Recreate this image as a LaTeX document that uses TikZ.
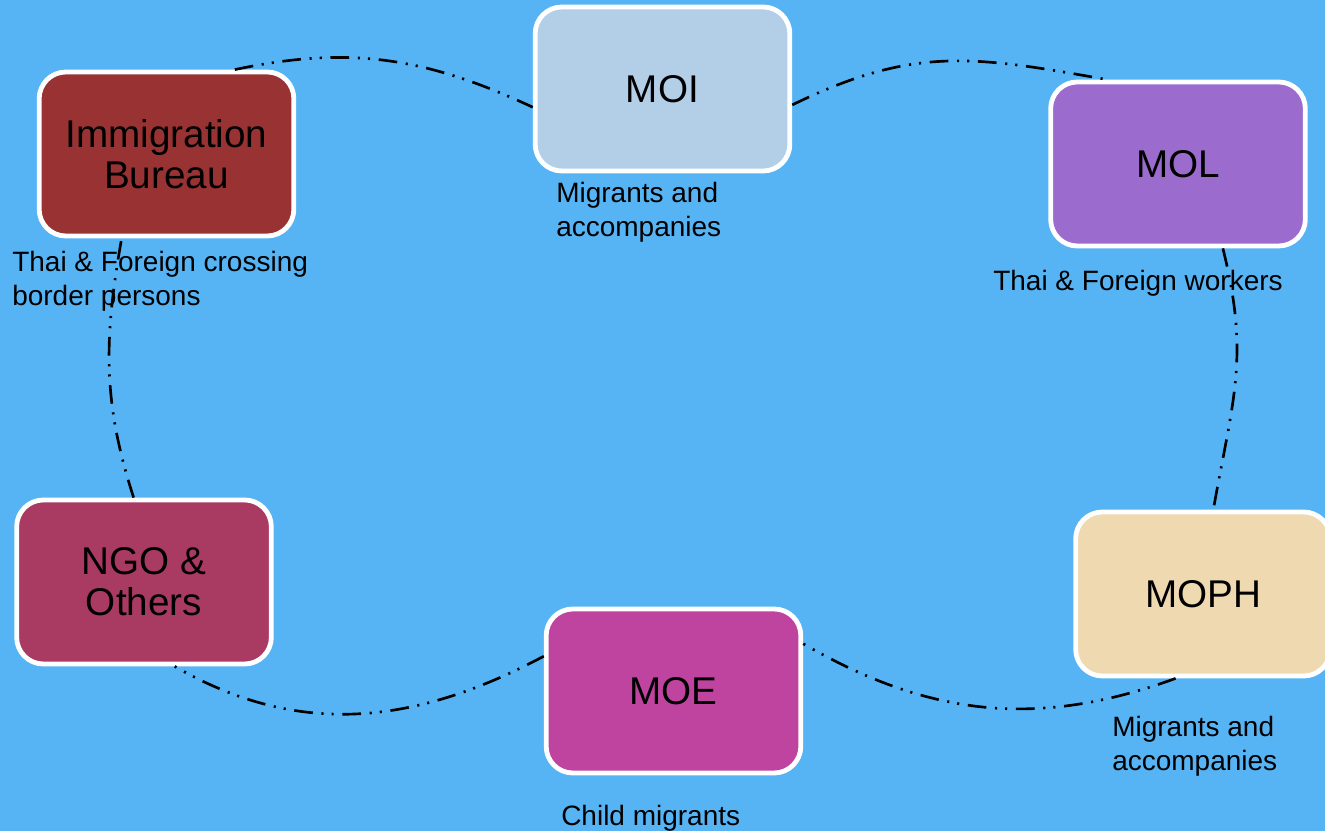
\documentclass[tikz,border=0pt]{standalone}
\usepackage{fontspec}
\setmainfont{Liberation Sans}
\usepackage{tikz}
\usetikzlibrary{positioning}

\definecolor{skyback}{RGB}{86,180,245}
\definecolor{immred}{RGB}{153,51,51}
\definecolor{moiblue}{RGB}{179,207,232}
\definecolor{molpurple}{RGB}{155,107,205}
\definecolor{mophsand}{RGB}{239,217,177}
\definecolor{moemagenta}{RGB}{190,68,160}
\definecolor{ngoberry}{RGB}{169,58,98}

\begin{document}
\begin{tikzpicture}[x=0.75pt, y=0.75pt,
        orgbox/.style={rectangle, draw=white, line width=3.6pt, rounded corners=20pt, minimum width=191pt, minimum height=123pt, align=center, font=\fontsize{29}{31}\selectfont},
        note/.style={anchor=west, align=left, inner sep=0pt, font=\fontsize{21}{25.5}\selectfont},
        link/.style={line width=2pt, dash pattern=on 14pt off 6.5pt on 1.6pt off 6pt on 1.6pt off 6.5pt}]
        \fill[skyback] (0,0) rectangle (1325,831);
        \useasboundingbox (0,0) rectangle (1325,831);

        % Nodes
        \node (imm) [orgbox, fill=immred] at (166.5,677) {Immigration\\Bureau};
        \node (moi) [orgbox, fill=moiblue] at (662.5,742) {MOI};
        \node (mol) [orgbox, fill=molpurple] at (1178,667) {MOL};
        \node (moph) [orgbox, fill=mophsand] at (1203,237) {MOPH};
        \node (moe) [orgbox, fill=moemagenta] at (673.5,140) {MOE};
        \node (ngo) [orgbox, fill=ngoberry] at (144,249) {NGO \&\\Others};

        % Labels
        \node (immnote) [note] at (12,550) {Thai \& Foreign crossing\\border persons};
        \node (moinote) [note] at (556,619) {Migrants and\\accompanies};
        \node (molnote) [note] at (993,548) {Thai \& Foreign workers};
        \node (mophnote) [note] at (1112,84.5) {Migrants and\\accompanies};
        \node (moenote) [note] at (561,12.5) {Child migrants};

        % Links
        \draw[link] (imm.51) to[out=12, in=155] (moi.188);
        \draw[link] (moi.-7) to[out=26, in=170, looseness=1.1] (mol.130);
        \draw[link] (mol.-62) to[out=-76, in=80, looseness=1.1] (moph.83);
        \draw[link] (moph.252) to[out=200, in=-30] (moe.20);
        \draw[link] (moe.165) to[out=208, in=-30] (ngo.-70);
        \draw[link] (ngo.97) to[out=108, in=-100] (imm.242);
    \end{tikzpicture}
\end{document}
